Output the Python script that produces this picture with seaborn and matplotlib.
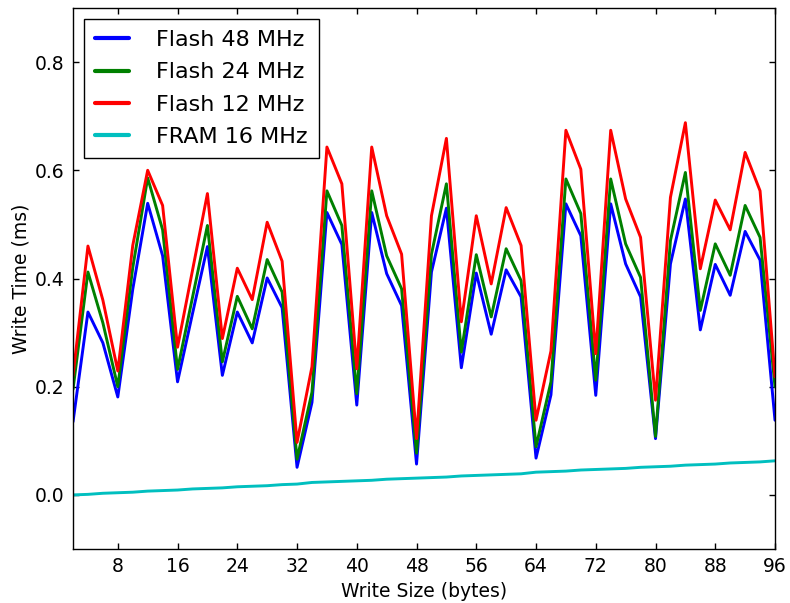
import matplotlib
matplotlib.use("Agg")
import matplotlib.pyplot as plt
import seaborn as sns
import pandas as pd

write_size = list(range(2, 97, 2))

flash_48 = [0.135, 0.338, 0.281, 0.181, 0.380, 0.539, 0.442, 0.209, 0.335, 0.459,
            0.221, 0.338, 0.281, 0.401, 0.346, 0.051, 0.171, 0.522, 0.463, 0.166,
            0.522, 0.409, 0.350, 0.057, 0.412, 0.530, 0.235, 0.410, 0.297, 0.416,
            0.366, 0.068, 0.185, 0.538, 0.479, 0.184, 0.538, 0.427, 0.366, 0.104,
            0.427, 0.547, 0.305, 0.426, 0.369, 0.487, 0.434, 0.138]
flash_24 = [0.195, 0.412, 0.318, 0.200, 0.420, 0.586, 0.490, 0.232, 0.365, 0.498,
            0.246, 0.367, 0.307, 0.435, 0.375, 0.066, 0.190, 0.562, 0.498, 0.187,
            0.562, 0.442, 0.381, 0.077, 0.445, 0.575, 0.264, 0.444, 0.329, 0.455,
            0.396, 0.089, 0.209, 0.584, 0.520, 0.212, 0.584, 0.464, 0.402, 0.108,
            0.470, 0.596, 0.341, 0.464, 0.406, 0.535, 0.476, 0.200]
flash_12 = [0.220, 0.460, 0.360, 0.229, 0.461, 0.600, 0.535, 0.273, 0.415, 0.557,
            0.289, 0.419, 0.361, 0.504, 0.432, 0.097, 0.237, 0.643, 0.575, 0.233,
            0.643, 0.516, 0.445, 0.104, 0.516, 0.659, 0.320, 0.516, 0.390, 0.531,
            0.461, 0.138, 0.266, 0.674, 0.602, 0.261, 0.674, 0.547, 0.476, 0.175,
            0.550, 0.688, 0.418, 0.545, 0.490, 0.633, 0.562, 0.218]
fram_16 = [0.000, 0.001, 0.003, 0.004, 0.005, 0.007, 0.008, 0.009, 0.011, 0.012,
           0.013, 0.015, 0.016, 0.017, 0.019, 0.020, 0.023, 0.024, 0.025, 0.026,
           0.027, 0.029, 0.030, 0.031, 0.032, 0.033, 0.035, 0.036, 0.037, 0.038,
           0.039, 0.042, 0.043, 0.044, 0.046, 0.047, 0.048, 0.049, 0.051, 0.052,
           0.053, 0.055, 0.056, 0.057, 0.059, 0.060, 0.061, 0.063]

series_names = ["Flash 48 MHz", "Flash 24 MHz", "Flash 12 MHz", "FRAM 16 MHz"]
series_values = [flash_48, flash_24, flash_12, fram_16]
colors = ["#0000ff", "#008000", "#ff0000", "#00bfbf"]

x_ticks = [8, 16, 24, 32, 40, 48, 56, 64, 72, 80, 88, 96]
y_ticks = [0.0, 0.2, 0.4, 0.6, 0.8]

rows = []
for name, vals in zip(series_names, series_values):
    for xs, v in zip(write_size, vals):
        rows.append({"Write Size (bytes)": xs, "Write Time (ms)": v, "series": name})
df = pd.DataFrame(rows)

sns.set_style("ticks")
plt.rcParams["font.family"] = ["DejaVu Sans"]
plt.rcParams["text.color"] = "black"
plt.rcParams["axes.labelcolor"] = "black"
plt.rcParams["xtick.color"] = "black"
plt.rcParams["ytick.color"] = "black"
plt.rcParams["xtick.direction"] = "in"
plt.rcParams["ytick.direction"] = "in"
plt.rcParams["xtick.top"] = True
plt.rcParams["ytick.right"] = True

fig = plt.figure(figsize=(7.9, 6.03), dpi=100, facecolor="white")
ax = fig.add_axes([73 / 790, 1 - 549 / 603, (775 - 73) / 790, (549 - 8) / 603])

sns.lineplot(data=df, x="Write Size (bytes)", y="Write Time (ms)", hue="series",
             hue_order=series_names, palette=colors, linewidth=2.1, ax=ax,
             estimator=None, sort=False)

ax.set_xlim(2, 96)
ax.set_ylim(-0.1, 0.9)
ax.set_xticks(x_ticks)
ax.set_yticks(y_ticks)
ax.set_xticklabels([str(t) for t in x_ticks])
ax.set_yticklabels([f"{t:.1f}" for t in y_ticks])
ax.tick_params(axis="both", which="major", labelsize=13.5, width=1, length=4,
               color="black", labelcolor="black", pad=6, top=True, right=True,
               direction="in")
ax.set_xlabel("Write Size (bytes)", fontsize=13.5, labelpad=4, color="black")
ax.set_ylabel("Write Time (ms)", fontsize=13.5, labelpad=3, color="black")
for sp in ax.spines.values():
    sp.set_visible(True)
    sp.set_color("black")
    sp.set_linewidth(1)

handles, labels = ax.get_legend_handles_labels()
leg = ax.legend(handles, labels, loc="upper left", fontsize=16, frameon=True,
                fancybox=False, shadow=False, handlelength=1.5,
                handletextpad=1.25, labelspacing=0.55, borderpad=0.5,
                borderaxespad=0.5)
leg.get_frame().set_edgecolor("black")
leg.get_frame().set_linewidth(1)
leg.get_frame().set_alpha(1)
for text in leg.get_texts():
    text.set_color("black")
for line in leg.get_lines():
    line.set_linewidth(3)

fig.savefig("out.png", dpi=100, facecolor="white")
